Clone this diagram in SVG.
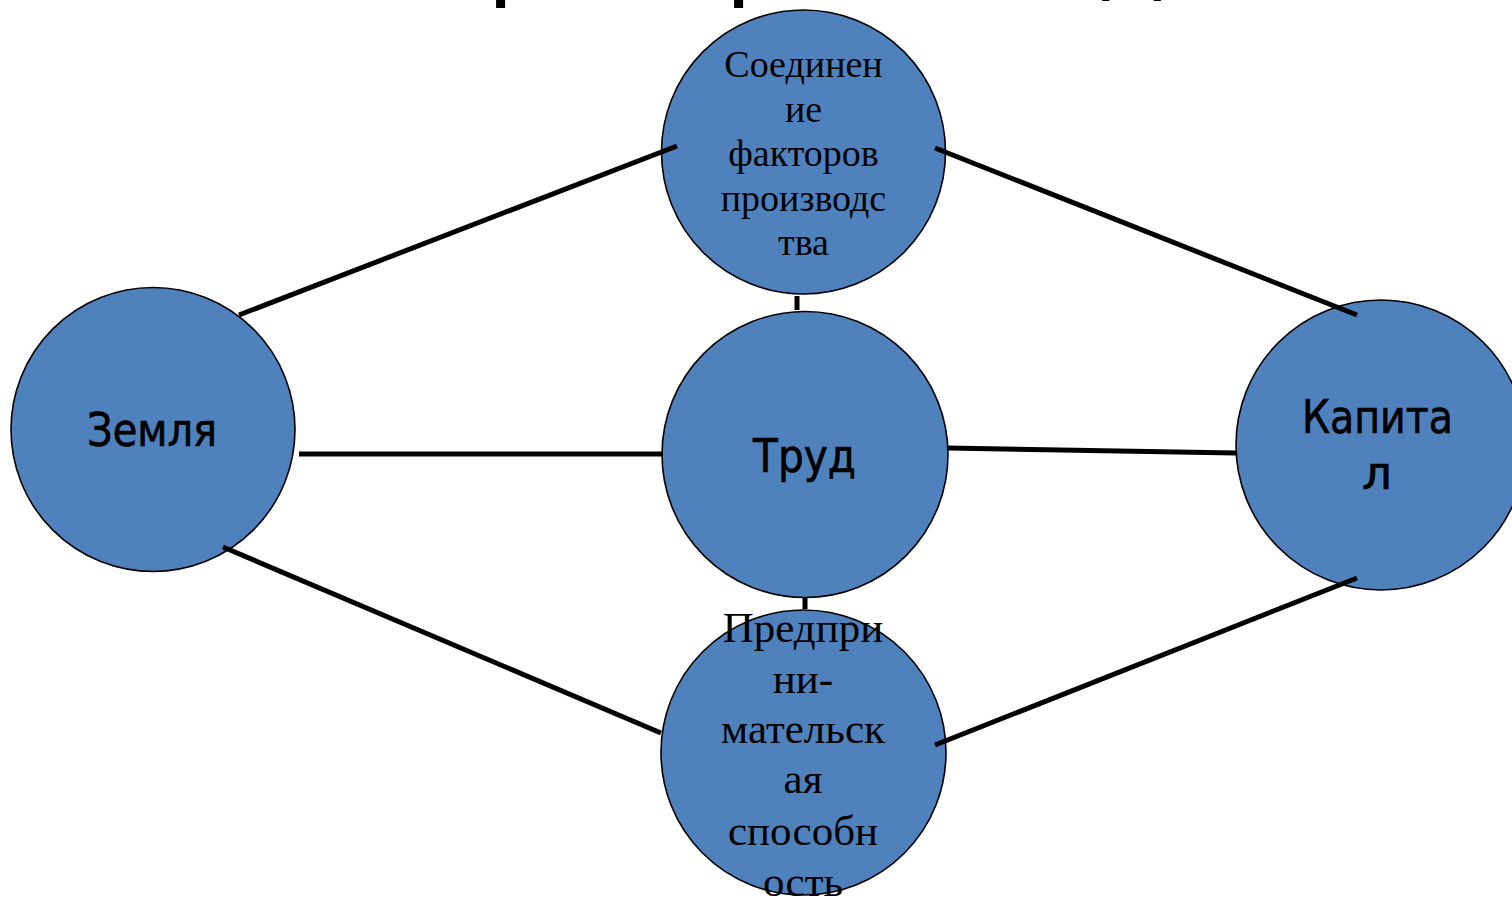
<svg xmlns="http://www.w3.org/2000/svg" width="1512" height="900" viewBox="0 0 1512 900">
<style>
.node{fill:#4F81BD;stroke:#000;stroke-width:1.6}
.conn line{stroke:#000;stroke-width:5;stroke-linecap:butt}
.sans{font-family:"DejaVu Sans","Liberation Sans",sans-serif;fill:#000;stroke:#000;stroke-width:0.7;text-anchor:middle}
.serif{font-family:"Liberation Serif","Times New Roman",serif;fill:#000;text-anchor:middle}
.title{font-family:"DejaVu Sans","Liberation Sans",sans-serif;font-size:100px;fill:#000}
</style>
<rect width="1512" height="900" fill="#fff"/>
<text class="title" y="-13" x="172.5 254.5 315.8 373.8 425.8 487 550.5 629.5 661.3 725 789 851 917 973 1033 1097 1165 1220 1272 1331">Факторы производства</text>
<g id="n-top"><circle class="node" cx="803.5" cy="152" r="142"/></g>
<g id="n-trud"><circle class="node" cx="805" cy="454.5" r="143"/></g>
<g id="n-bottom"><circle class="node" cx="803.5" cy="752.5" r="142.5"/></g>
<g id="n-zemlya"><circle class="node" cx="153" cy="429.5" r="142"/></g>
<g id="n-kapital"><circle class="node" cx="1381" cy="445" r="145"/></g>
<g class="conn" id="connectors">
<line x1="239" y1="315" x2="677" y2="146"/>
<line x1="935" y1="148" x2="1357" y2="315"/>
<line x1="299" y1="454" x2="663" y2="454"/>
<line x1="947" y1="448" x2="1236" y2="453"/>
<line x1="223" y1="547" x2="661" y2="733"/>
<line x1="935" y1="745" x2="1357" y2="578"/>
<line x1="797" y1="296" x2="797" y2="310"/>
<line x1="805" y1="598" x2="805" y2="609"/>
</g>
<g id="t-top" class="serif" font-size="38">
<text x="803.5" y="77">Соединен</text>
<text x="803.5" y="121.5">ие</text>
<text x="803.5" y="166">факторов</text>
<text x="803.5" y="210.5">производс</text>
<text x="803.5" y="255">тва</text>
</g>
<g id="t-zemlya"><text class="sans" x="152" y="446" font-size="46" textLength="130" lengthAdjust="spacingAndGlyphs">Земля</text></g>
<g id="t-trud"><text class="sans" x="804.5" y="472" font-size="47" textLength="103" lengthAdjust="spacingAndGlyphs">Труд</text></g>
<g id="t-kapital">
<text class="sans" x="1377.5" y="433" font-size="47" textLength="151" lengthAdjust="spacingAndGlyphs">Капита</text>
<text class="sans" x="1377" y="489" font-size="47">л</text>
</g>
<g id="t-bottom" class="serif" font-size="43">
<text x="803" y="642">Предпри</text>
<text x="803" y="693">ни-</text>
<text x="803" y="743">мательск</text>
<text x="803" y="793">ая</text>
<text x="803" y="845">способн</text>
<text x="803" y="896">ость</text>
</g>
</svg>
